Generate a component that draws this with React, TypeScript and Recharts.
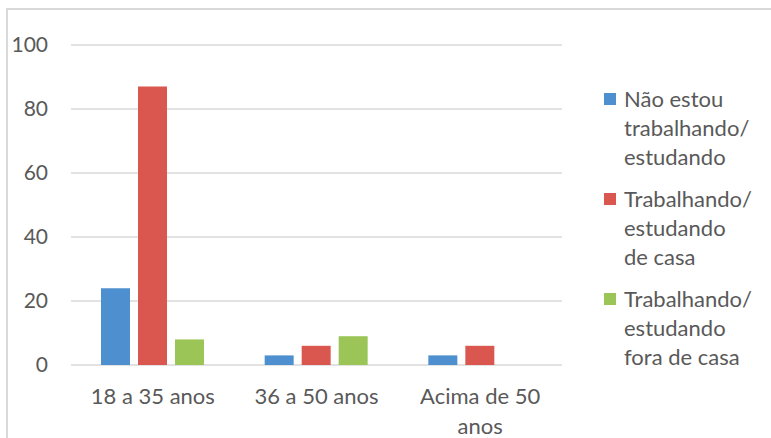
import React from 'react';
import { BarChart, Bar, XAxis, YAxis, CartesianGrid } from 'recharts';

const categories = ['18 a 35 anos', '36 a 50 anos', 'Acima de 50 anos'];
const naoEstou = [24, 3, 3];
const deCasa = [87, 6, 6];
const foraDeCasa = [8, 9, 0];
const yTicks = [0, 20, 40, 60, 80, 100];

const series = [
  { key: 'naoEstou', lines: ['Não estou', 'trabalhando/', 'estudando'], color: '#4e8fcf' },
  { key: 'deCasa', lines: ['Trabalhando/', 'estudando', 'de casa'], color: '#d9574f' },
  { key: 'foraDeCasa', lines: ['Trabalhando/', 'estudando', 'fora de casa'], color: '#9bc657' },
];

const data = categories.map((name, i) => ({
  name,
  naoEstou: naoEstou[i],
  deCasa: deCasa[i],
  foraDeCasa: foraDeCasa[i],
}));

const FONT = 'Lato, "Open Sans", sans-serif';
const TEXT = '#595959';

// greedy word wrap, about 12 characters per line
const wrap = (s: string, max = 12) => {
  const out: string[] = [];
  let cur = '';
  s.split(' ').forEach((w) => {
    const next = cur ? cur + ' ' + w : w;
    if (next.length > max && cur) {
      out.push(cur);
      cur = w;
    } else cur = next;
  });
  if (cur) out.push(cur);
  return out;
};

const XTick = (props: any) => {
  const { x, y, payload } = props;
  return (
    <text x={x} y={y} textAnchor="middle" fill={TEXT} fontSize={22} fontFamily={FONT}>
      {wrap(String(payload.value)).map((l, i) => (
        <tspan key={i} x={x} dy={i === 0 ? 17 : 30}>
          {l}
        </tspan>
      ))}
    </text>
  );
};

export default function App() {
  return (
    <div style={{ position: 'fixed', left: 0, top: 0, width: 771, height: 438, background: '#fff', overflow: 'hidden' }}>
      <div
        style={{
          position: 'absolute',
          left: 6,
          top: 8,
          width: 800,
          height: 500,
          borderTop: '2px solid #d9d9d9',
          borderLeft: '2px solid #d9d9d9',
        }}
      />
      <div style={{ position: 'absolute', left: 0, top: 0 }}>
        <BarChart
          width={771}
          height={438}
          data={data}
          margin={{ top: 45, right: 209, bottom: 0, left: 0 }}
          barCategoryGap={30}
          barGap={8}
        >
          <CartesianGrid vertical={false} stroke="#d9d9d9" strokeWidth={1.5} />
          <YAxis
            width={71}
            domain={[0, 100]}
            ticks={yTicks}
            axisLine={false}
            tickLine={false}
            tickSize={0}
            tickMargin={23}
            tick={{ fill: TEXT, fontSize: 21, fontFamily: FONT }}
          />
          <XAxis
            dataKey="name"
            height={73}
            axisLine={false}
            tickLine={false}
            tickSize={0}
            tickMargin={22}
            interval={0}
            tick={<XTick />}
          />
          {series.map((s) => (
            <Bar key={s.key} dataKey={s.key} fill={s.color} barSize={29} isAnimationActive={false} />
          ))}
        </BarChart>
      </div>
      <div style={{ position: 'absolute', left: 604, top: 84, fontFamily: FONT, fontSize: 22, color: TEXT }}>
        {series.map((s) => (
          <div key={s.key} style={{ position: 'relative', height: 100 }}>
            <div style={{ position: 'absolute', left: 0, top: 9, width: 12, height: 12, background: s.color }} />
            {s.lines.map((l, j) => (
              <div key={j} style={{ position: 'absolute', left: 20, top: j * 29, lineHeight: '29px', whiteSpace: 'nowrap' }}>
                {l}
              </div>
            ))}
          </div>
        ))}
      </div>
    </div>
  );
}
